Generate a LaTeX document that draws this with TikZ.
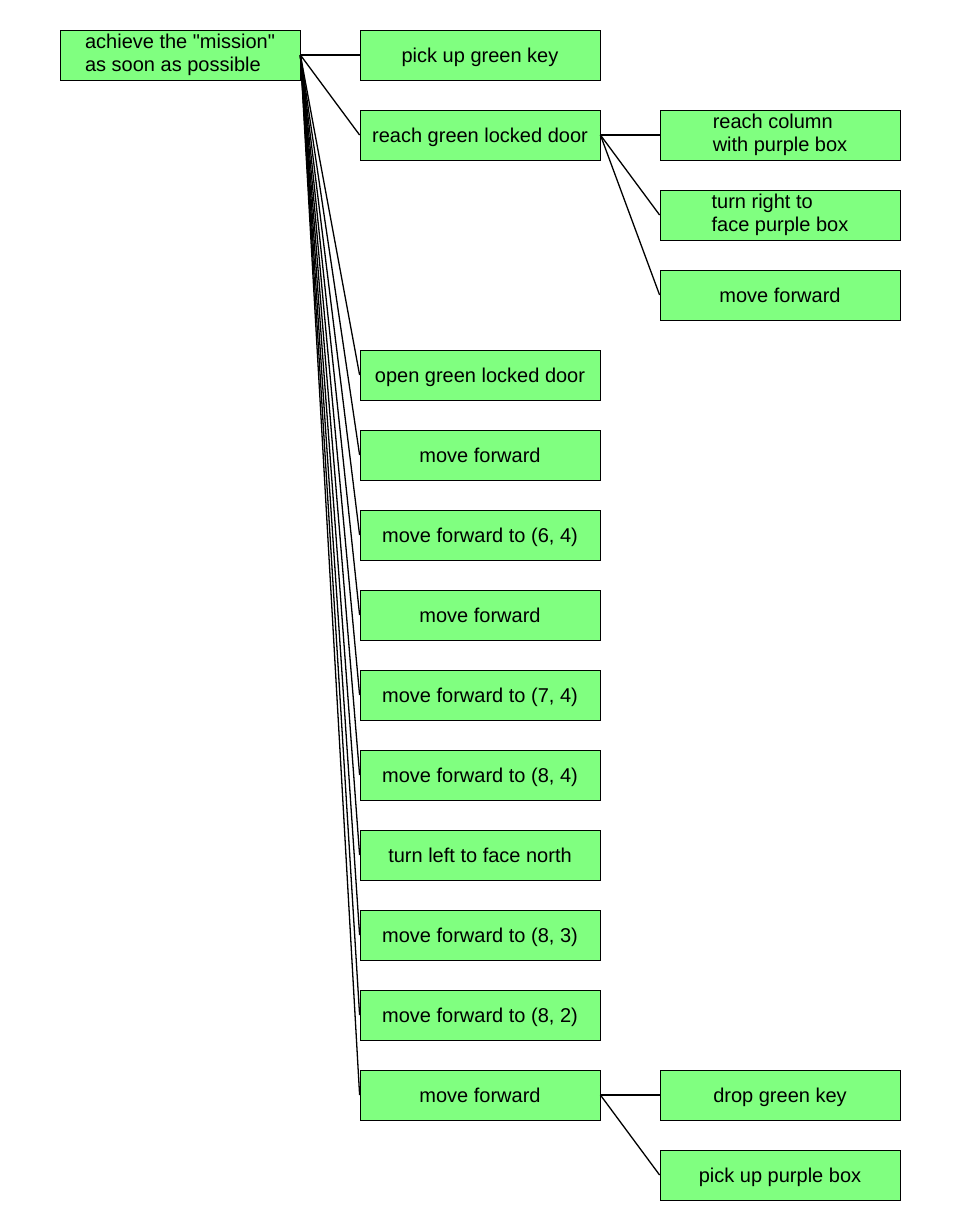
\documentclass[tikz,border=0pt]{standalone}
\usepackage{fontspec}
\setmainfont{Liberation Sans}
\newfontfamily\plainfont{Liberation Sans}
\definecolor{boxgreen}{HTML}{80FF80}
\begin{document}
\begin{tikzpicture}[x=1pt,y=-1pt,
  box/.style={draw=black, fill=boxgreen, minimum width=240pt, minimum height=50pt,
    inner sep=0pt, font=\plainfont\fontsize{20}{23}\selectfont, line width=0.8pt,
    text height=16pt, text depth=1.4pt},
  multi/.style={box, align=left, text height=38pt, text depth=4pt},
  link/.style={draw=black, line width=1.3pt}]
\useasboundingbox (0,0) rectangle (960,1230);
\node[multi] (root) at (180,55) {achieve the "mission"\\as soon as possible};
\node[box] (a1) at (480,55) {pick up green key};
\node[box] (a2) at (480,135) {reach green locked door};
\node[multi] (b1) at (780,135) {reach column\\with purple box};
\node[multi] (b2) at (780,215) {turn right to\\face purple box};
\node[box] (b3) at (780,295) {move forward};
\node[box] (a3) at (480,375) {open green locked door};
\node[box] (a4) at (480,455) {move forward};
\node[box] (a5) at (480,535) {move forward to (6, 4)};
\node[box] (a6) at (480,615) {move forward};
\node[box] (a7) at (480,695) {move forward to (7, 4)};
\node[box] (a8) at (480,775) {move forward to (8, 4)};
\node[box] (a9) at (480,855) {turn left to face north};
\node[box] (a10) at (480,935) {move forward to (8, 3)};
\node[box] (a11) at (480,1015) {move forward to (8, 2)};
\node[box] (a12) at (480,1095) {move forward};
\node[box] (c1) at (780,1095) {drop green key};
\node[box] (c2) at (780,1175) {pick up purple box};
\foreach \n in {a1,a2,a3,a4,a5,a6,a7,a8,a9,a10,a11,a12}
  \draw[link] (root.east) -- (\n.west);
\foreach \n in {b1,b2,b3}
  \draw[link] (a2.east) -- (\n.west);
\foreach \n in {c1,c2}
  \draw[link] (a12.east) -- (\n.west);
\end{tikzpicture}
\end{document}
